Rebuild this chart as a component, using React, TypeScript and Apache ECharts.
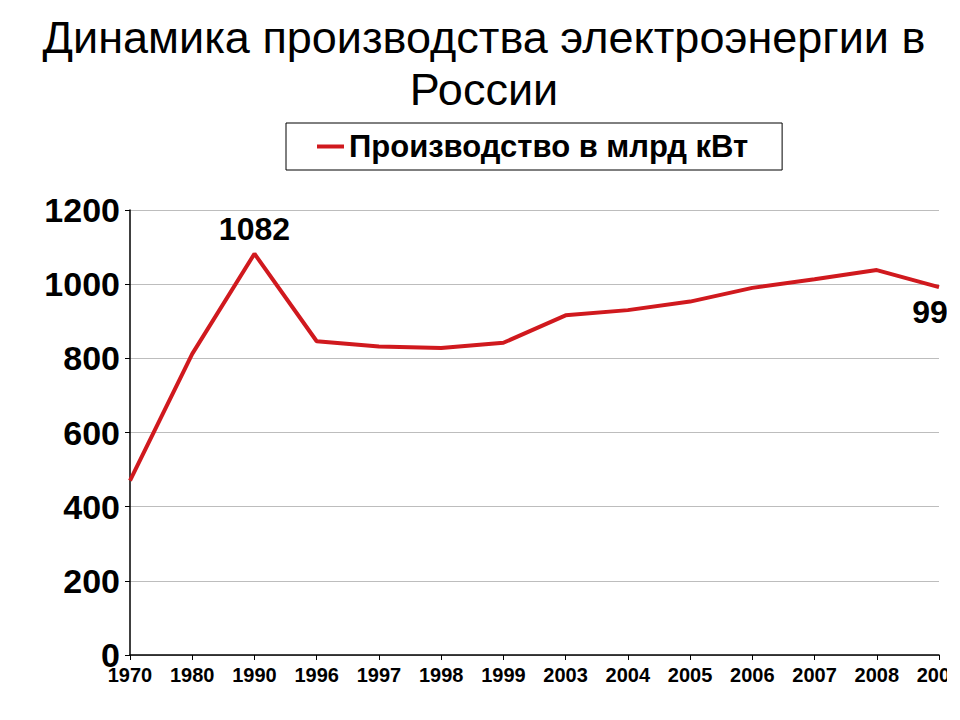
import React, { useEffect, useRef } from "react";
import * as echarts from "echarts";

const categories = ["1970", "1980", "1990", "1996", "1997", "1998", "1999", "2003", "2004", "2005", "2006", "2007", "2008", "2009"];
const production = [470, 812, 1082, 846, 832, 828, 842, 916, 930, 953, 990, 1013, 1038, 992];
const labelledIndices = [2, 13];
const seriesName = "Производство в млрд кВт";
const titleText = "Динамика производства электроэнергии в\nРоссии";
const lineColor = "#d0191e";

export default function App() {
  const ref = useRef<HTMLDivElement>(null);
  useEffect(() => {
    if (!ref.current) return;
    const chart = echarts.init(ref.current, undefined, { renderer: "svg" });
    const font = "'Liberation Sans', Arial, sans-serif";
    chart.setOption({
      animation: false,
      backgroundColor: "#ffffff",
      title: {
        text: titleText,
        left: 479,
        top: 6,
        textAlign: "center",
        textStyle: {
          fontFamily: font,
          fontSize: 45,
          fontWeight: "normal",
          color: "#000",
          lineHeight: 52,
        },
      },
      legend: {
        data: [{ name: seriesName, itemStyle: { color: lineColor, opacity: 1 } }],
        left: 286,
        top: 123,
        padding: [8, 34, 8, 31],
        borderColor: "#000",
        borderWidth: 1,
        icon: "rect",
        itemWidth: 27,
        itemHeight: 4,
        itemGap: 8,
        textStyle: {
          fontFamily: font,
          fontSize: 31,
          fontWeight: "bold",
          color: "#000",
        },
      },
      grid: { left: 130, right: 61, top: 210, bottom: 65, containLabel: false },
      xAxis: {
        type: "category",
        data: categories,
        boundaryGap: false,
        axisLine: { lineStyle: { color: "#000", width: 1.5 } },
        axisTick: { alignWithLabel: true, length: 5, lineStyle: { color: "#000" } },
        axisLabel: {
          fontFamily: font,
          fontSize: 20,
          fontWeight: "bold",
          color: "#000",
          margin: 10,
          interval: 0,
        },
        splitLine: { show: false },
      },
      yAxis: {
        type: "value",
        min: 0,
        max: 1200,
        interval: 200,
        axisLine: { show: true, lineStyle: { color: "#000", width: 1.5 } },
        axisTick: { show: true, length: 5, lineStyle: { color: "#000" } },
        axisLabel: {
          fontFamily: font,
          fontSize: 34,
          fontWeight: "bold",
          color: "#000",
          margin: 10,
          formatter: (v: number) => String(v),
        },
        splitLine: { show: true, lineStyle: { color: "#bdbdbd", width: 1 } },
      },
      series: [
        {
          name: seriesName,
          type: "line",
          data: production.map((v, i) =>
            labelledIndices.includes(i)
              ? {
                  value: v,
                  label: {
                    show: true,
                    position: i === 2 ? "top" : "bottom",
                    distance: i === 2 ? 8 : 8,
                    fontFamily: font,
                    fontSize: 32,
                    fontWeight: "bold",
                    color: "#000",
                  },
                }
              : v
          ),
          showSymbol: true,
          symbol: "circle",
          symbolSize: 1,
          itemStyle: { color: "rgba(0,0,0,0)" },
          color: lineColor,
          lineStyle: { color: lineColor, width: 4 },
        },
      ],
    });
    return () => chart.dispose();
  }, []);
  return (
    <div style={{ position: "absolute", left: 0, top: 0, width: 947, height: 720, overflow: "hidden", background: "#fff" }}>
      <div ref={ref} style={{ width: 1000, height: 720 }} />
    </div>
  );
}
